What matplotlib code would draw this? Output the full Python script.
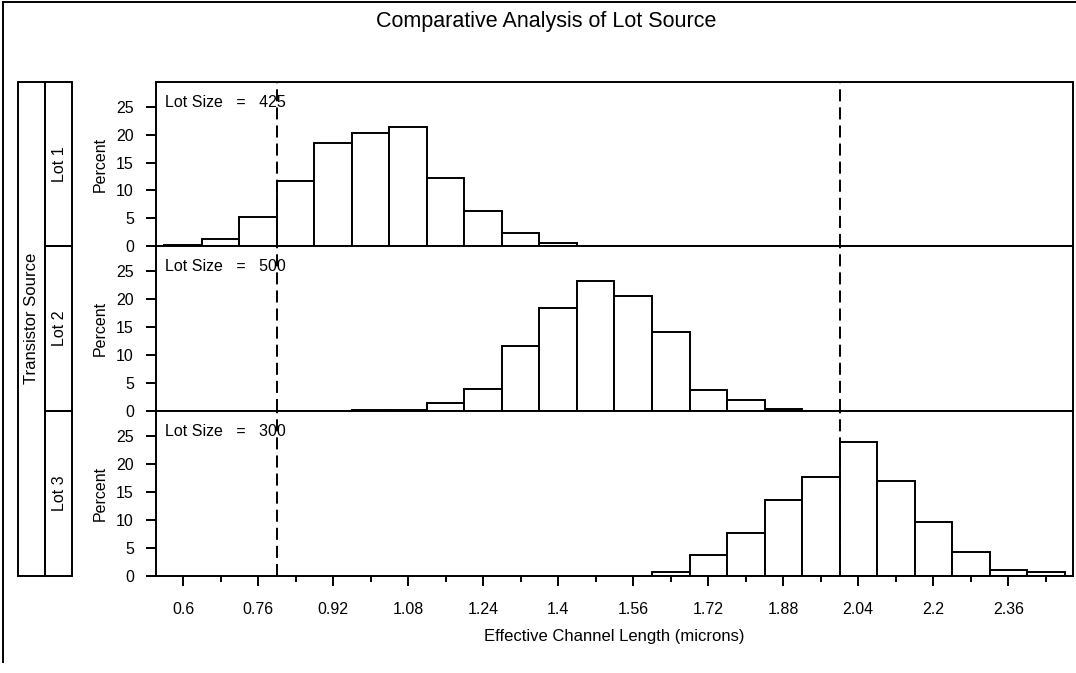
import matplotlib
matplotlib.use("Agg")
import matplotlib.pyplot as plt
import numpy as np
from matplotlib.patches import Rectangle
from matplotlib.lines import Line2D

plt.rcParams['font.family'] = ['Liberation Sans', 'DejaVu Sans']

# data (percent per 0.08 micron bin)
lot_names = ["Lot 1", "Lot 2", "Lot 3"]
lot_sizes = [425, 500, 300]
bin_width = 0.08
lot_starts = [0.56, 0.96, 1.60]
lot1_pct = [0.24, 1.18, 5.18, 11.76, 18.59, 20.24, 21.41, 12.24, 6.35, 2.35, 0.47]
lot2_pct = [0.2, 0.2, 1.4, 4.0, 11.6, 18.4, 23.2, 20.6, 14.2, 3.8, 2.0, 0.4]
lot3_pct = [0.67, 3.67, 7.67, 13.67, 17.67, 24.0, 17.0, 9.67, 4.33, 1.0, 0.67]
lot_pct = [lot1_pct, lot2_pct, lot3_pct]
spec_limits = [0.8, 2.0]
xticks_major = [0.6, 0.76, 0.92, 1.08, 1.24, 1.4, 1.56, 1.72, 1.88, 2.04, 2.2, 2.36]
xtick_labels = ["0.6", "0.76", "0.92", "1.08", "1.24", "1.4", "1.56", "1.72",
                "1.88", "2.04", "2.2", "2.36"]
yticks = [0, 5, 10, 15, 20, 25]

W, H = 1076, 673
fig = plt.figure(figsize=(W / 100, H / 100), dpi=100)

left, right = 156, 1073
tops = [82, 246, 411]
bottoms = [246, 411, 576]
lw = 1.4
fs = 11.5

axes = []
for i in range(3):
    ax = fig.add_axes([left / W, 1 - bottoms[i] / H, (right - left) / W,
                       (bottoms[i] - tops[i]) / H])
    edges = lot_starts[i] + bin_width * np.arange(len(lot_pct[i]))
    ax.bar(edges, lot_pct[i], width=bin_width, align='edge', color='white',
           edgecolor='black', linewidth=lw, zorder=2)
    for s in spec_limits:
        ax.axvline(s, color='black', linewidth=lw, dashes=(6.2, 3.1), zorder=3)
    ax.set_xlim(0.542, 2.498)
    ax.set_ylim(0, 29.5)
    ax.set_yticks(yticks)
    ax.set_yticklabels([str(t) for t in yticks], fontsize=fs)
    ax.tick_params(axis='y', direction='out', length=7, width=lw, pad=9)
    ax.set_ylabel("Percent", fontsize=fs)
    ax.yaxis.set_label_coords(-0.0523, 0.5)
    for sp in ax.spines.values():
        sp.set_linewidth(lw)
    ax.text(0.0098, 0.878, "Lot Size   =   %d" % lot_sizes[i], transform=ax.transAxes,
            fontsize=fs, ha='left', va='center', zorder=4)
    if i < 2:
        ax.set_xticks([])
    else:
        ax.set_xticks(xticks_major)
        ax.set_xticklabels(xtick_labels, fontsize=fs)
        ax.set_xticks(np.array(xticks_major) + 0.08, minor=True)
        ax.tick_params(axis='x', which='major', direction='out', length=7, width=lw, pad=12)
        ax.tick_params(axis='x', which='minor', direction='out', length=4, width=lw)
        ax.set_xlabel("Effective Channel Length (microns)", fontsize=12, labelpad=8)
    axes.append(ax)

# overlay in pixel coordinates for title, frame and row labels
ov = fig.add_axes([0, 0, 1, 1], zorder=-1)
ov.set_xlim(0, W)
ov.set_ylim(H, 0)
ov.axis('off')
ov.add_line(Line2D([3, W], [2, 2], color='black', linewidth=lw))
ov.add_line(Line2D([3, 3], [2, 662], color='black', linewidth=lw))
ov.text(546, 22, "Comparative Analysis of Lot Source", fontsize=15.5,
        ha='center', va='center')
ov.add_patch(Rectangle((18, 82), 27, 494, fill=False, edgecolor='black', linewidth=lw))
ov.text(32, 318, "Transistor Source", rotation=90, fontsize=12, ha='center', va='center')
for i in range(3):
    ov.add_patch(Rectangle((45, tops[i]), 27, bottoms[i] - tops[i], fill=False,
                           edgecolor='black', linewidth=lw))
    ov.text(59, (tops[i] + bottoms[i]) / 2, lot_names[i], rotation=90, fontsize=11.5,
            ha='center', va='center')

fig.savefig("out.png", dpi=100)
